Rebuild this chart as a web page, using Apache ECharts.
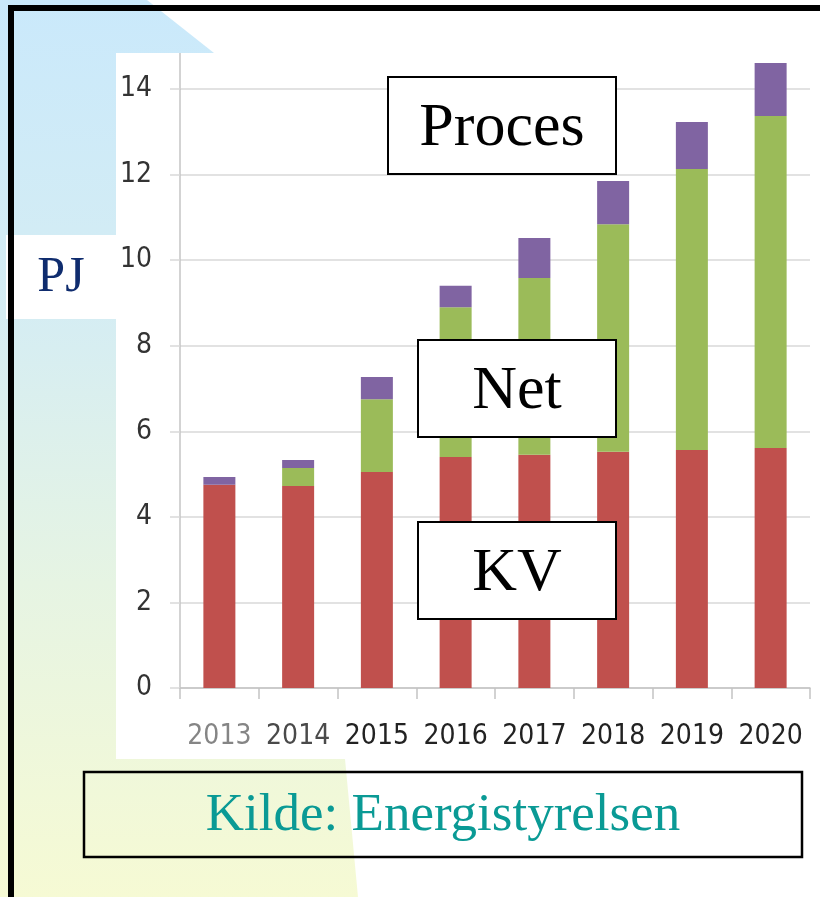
<!DOCTYPE html>
<html>
<head>
<meta charset="utf-8">
<script src="https://cdn.jsdelivr.net/npm/echarts@6/dist/echarts.min.js"></script>
<style>
	html, body { margin: 0; padding: 0; background: #ffffff; }
	#chart { width: 820px; height: 897px; }
</style>
</head>
<body>
<div id="chart"></div>
<script>
// PJ per year, split in three uses
const years = ['2013', '2014', '2015', '2016', '2017', '2018', '2019', '2020']
const kv = [4.75, 4.72, 5.05, 5.40, 5.45, 5.52, 5.56, 5.61]
const net = [0, 0.42, 1.70, 3.50, 4.13, 5.32, 6.57, 7.76]
const proces = [0.18, 0.19, 0.52, 0.50, 0.94, 1.01, 1.10, 1.24]
const yearColors = ['#858585', '#4a4a4a', '#222222', '#222222', '#222222', '#222222', '#222222', '#222222']

const colors = { kv: '#c0504d', net: '#9bbb59', proces: '#8064a2', axis: '#c4c4c4', grid: '#d9d9d9' }
const narrow = '"DejaVu Sans Condensed", "Liberation Sans Narrow", sans-serif'
const serif = '"Liberation Serif", "Times New Roman", serif'

const chart = echarts.init(document.getElementById('chart'))

// boxes with a big serif word in them
function labelbox(x, y, w, h, text, opts) {
	opts = opts || {}
	return [{
		type: 'rect', z: 100, silent: true,
		shape: { x: x, y: y, width: w, height: h },
		style: { fill: opts.fill || '#ffffff', stroke: '#000000', lineWidth: opts.lineWidth || 2 },
	}, {
		type: 'text', z: 101, silent: true,
		x: x + w / 2, y: y + h / 2 + (opts.dy || 0),
		style: {
			text: text, font: (opts.size || 62) + 'px ' + serif,
			fill: opts.color || '#000000', align: 'center', verticalAlign: 'middle',
		},
	}]
}

const bg = new echarts.graphic.LinearGradient(0, 0, 0, 1, [
	{ offset: 0, color: '#cae9fb' },
	{ offset: 0.35, color: '#d5edf3' },
	{ offset: 0.65, color: '#e6f4e3' },
	{ offset: 1, color: '#f6fad4' },
])

const option = {
	animation: false,
	backgroundColor: '#ffffff',
	graphic: [
		{
			type: 'polygon', z: -20, silent: true,
			shape: { points: [[0, 0], [147, 0], [214, 53], [300, 300], [345, 759], [358, 897], [0, 897]] },
			style: { fill: bg },
		},
		{ type: 'rect', z: -10, silent: true, shape: { x: 116, y: 53, width: 704, height: 706 }, style: { fill: '#ffffff' } },
		{ type: 'rect', z: -10, silent: true, shape: { x: 6, y: 235, width: 110, height: 84 }, style: { fill: '#ffffff' } },
		{ type: 'line', z: -5, silent: true, shape: { x1: 180, y1: 53, x2: 180, y2: 90 }, style: { stroke: colors.axis, lineWidth: 1.5 } },
		{ type: 'polyline', z: 50, silent: true, shape: { points: [[11, 897], [11, 8], [820, 8]] }, style: { stroke: '#000000', lineWidth: 6, fill: null } },
		{
			type: 'text', z: 100, x: 61, y: 278, silent: true,
			style: { text: 'PJ', font: '50px ' + serif, fill: '#0f2c6e', align: 'center', verticalAlign: 'middle' },
		},
		...labelbox(388, 77, 228, 97, 'Proces', { dy: 3 }),
		...labelbox(418, 340, 198, 97, 'Net', { dy: 3 }),
		...labelbox(418, 522, 198, 97, 'KV', { dy: 3 }),
		...labelbox(84, 772, 718, 85, 'Kilde: Energistyrelsen', { fill: 'rgba(0,0,0,0)', size: 53, color: '#0a9a95', lineWidth: 2.5, dy: 2 }),
	],
	grid: { left: 180, right: 10, top: 89, bottom: 209, containLabel: false },
	xAxis: {
		type: 'category',
		data: years,
		boundaryGap: true,
		axisLine: { lineStyle: { color: colors.axis, width: 1.5 } },
		axisTick: { show: true, length: 11, interval: 0, lineStyle: { color: colors.axis, width: 1.5 } },
		axisLabel: {
			interval: 0, margin: 35,
			fontFamily: narrow, fontSize: 28,
			color: (v, i) => yearColors[years.indexOf(v)] || '#222222',
		},
		splitLine: { show: false },
	},
	yAxis: {
		type: 'value',
		min: 0, max: 14, interval: 2,
		axisLine: { show: true, lineStyle: { color: colors.axis, width: 1.5 } },
		axisTick: { show: true, length: 10, lineStyle: { color: colors.grid, width: 1.5 } },
		axisLabel: { margin: 28, fontFamily: narrow, fontSize: 28, color: '#333333' },
		splitLine: { lineStyle: { color: colors.grid, width: 1.5 } },
	},
	series: [
		{ name: 'KV', type: 'bar', stack: 'pj', data: kv, barWidth: 32, clip: false, itemStyle: { color: colors.kv } },
		{ name: 'Net', type: 'bar', stack: 'pj', data: net, barWidth: 32, clip: false, itemStyle: { color: colors.net } },
		{ name: 'Proces', type: 'bar', stack: 'pj', data: proces, barWidth: 32, clip: false, itemStyle: { color: colors.proces } },
	],
}

chart.setOption(option)
</script>
</body>
</html>
